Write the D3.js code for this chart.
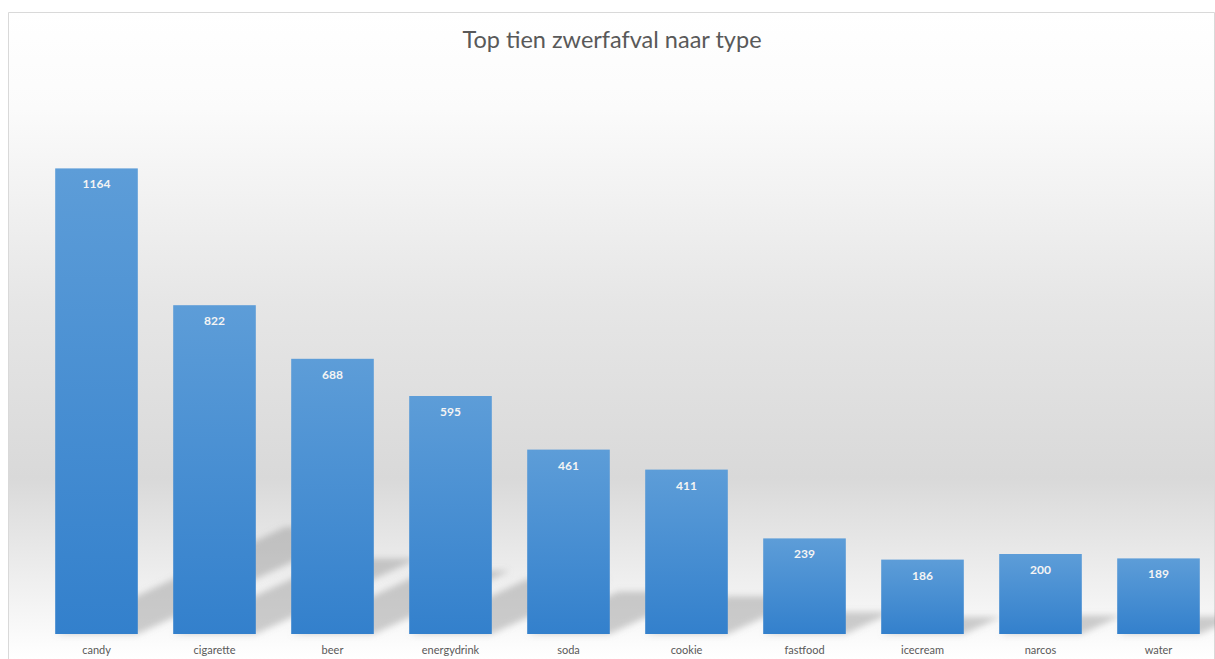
<!DOCTYPE html>
<html>
<head>
<meta charset="utf-8">
<script src="https://cdnjs.cloudflare.com/ajax/libs/d3/7.8.5/d3.min.js"></script>
<style>
  body { margin: 0; background: #fff; }
  svg { display: block; }
</style>
</head>
<body>
<div id="chart"></div>
<script>
// chart data
var categories = ['candy', 'cigarette', 'beer', 'energydrink', 'soda', 'cookie', 'fastfood', 'icecream', 'narcos', 'water'];
var counts = [1164, 822, 688, 595, 461, 411, 239, 186, 200, 189];
var chartTitle = 'Top tien zwerfafval naar type';

var w = 1215;
var h = 659;
var base = 634;

var data = categories.map(function(c, i) { return { name: c, value: counts[i] }; });

var svg = d3.select('#chart').append('svg')
  .attr('width', w)
  .attr('height', h);

var defs = svg.append('defs');

// background gradient of the chart area
var bg = defs.append('linearGradient')
  .attr('id', 'bgGrad')
  .attr('x1', 0).attr('y1', 0).attr('x2', 0).attr('y2', 1);
bg.append('stop').attr('offset', '0%').attr('stop-color', '#ffffff');
bg.append('stop').attr('offset', '15%').attr('stop-color', '#fbfbfb');
bg.append('stop').attr('offset', '45%').attr('stop-color', '#e6e6e6');
bg.append('stop').attr('offset', '72%').attr('stop-color', '#d9d9d9');
bg.append('stop').attr('offset', '88%').attr('stop-color', '#efefef');
bg.append('stop').attr('offset', '100%').attr('stop-color', '#ffffff');

// bar gradient
var bar = defs.append('linearGradient')
  .attr('id', 'barGrad')
  .attr('x1', 0).attr('y1', 0).attr('x2', 0).attr('y2', 1);
bar.append('stop').attr('offset', '0%').attr('stop-color', '#5d9dd8');
bar.append('stop').attr('offset', '100%').attr('stop-color', '#3380cc');

// shadow blur
defs.append('filter')
  .attr('id', 'blur')
  .attr('x', '-20%').attr('y', '-20%').attr('width', '140%').attr('height', '140%')
  .append('feGaussianBlur')
  .attr('stdDeviation', 3);

svg.append('rect')
  .attr('x', 8).attr('y', 12)
  .attr('width', w - 8).attr('height', h - 12)
  .attr('fill', 'url(#bgGrad)');

// frame
svg.append('path')
  .attr('d', 'M8.5,' + h + 'V12.5H' + (w - 0.5) + 'V' + h)
  .attr('fill', 'none')
  .attr('stroke', '#d9d9d9');

svg.append('text')
  .attr('x', 612)
  .attr('y', 48)
  .attr('text-anchor', 'middle')
  .style('font-family', 'Lato, "Open Sans", sans-serif')
  .style('font-size', '23.5px')
  .style('fill', '#595959')
  .text(chartTitle);

// scales
var x = d3.scaleBand()
  .domain(categories)
  .range([37.5, 1217.5])
  .paddingInner(0.3)
  .paddingOuter(0.15);

var y = d3.scaleLinear()
  .domain([0, 1400])
  .range([base, 74]);

// perspective shadows, going up to the right
function shadowPath(d) {
  var x0 = x(d.name), x1 = x0 + x.bandwidth();
  var hgt = base - y(d.value);
  var dx = hgt * 0.494, dy = hgt * 0.23;
  return 'M' + x0 + ',' + base + 'L' + x1 + ',' + base +
    'L' + (x1 + dx) + ',' + (base - dy) + 'L' + (x0 + dx) + ',' + (base - dy) + 'Z';
}

svg.append('g')
  .attr('class', 'shadows')
  .attr('filter', 'url(#blur)')
  .selectAll('path')
  .data(data)
  .enter().append('path')
  .attr('d', shadowPath)
  .attr('fill', '#8c8c8c')
  .attr('fill-opacity', 0.42);

svg.append('g')
  .attr('class', 'bars')
  .selectAll('rect')
  .data(data)
  .enter().append('rect')
  .attr('x', function(d) { return x(d.name); })
  .attr('y', function(d) { return y(d.value); })
  .attr('width', x.bandwidth())
  .attr('height', function(d) { return base - y(d.value); })
  .attr('fill', 'url(#barGrad)');

svg.append('g')
  .attr('class', 'values')
  .selectAll('text')
  .data(data)
  .enter().append('text')
  .attr('x', function(d) { return x(d.name) + x.bandwidth() / 2; })
  .attr('y', function(d) { return y(d.value) + 20; })
  .attr('text-anchor', 'middle')
  .style('font-family', 'Lato, "Open Sans", sans-serif')
  .style('font-size', '12px')
  .style('font-weight', 'bold')
  .style('fill', '#f4f4f4')
  .text(function(d) { return d.value; });

// category axis
var xAxis = svg.append('g')
  .attr('transform', 'translate(0,' + base + ')')
  .call(d3.axisBottom(x).tickSize(0).tickPadding(12));
xAxis.select('.domain').remove();
xAxis.selectAll('text')
  .style('font-family', 'Lato, "Open Sans", sans-serif')
  .style('font-size', '11px')
  .style('fill', '#595959');
</script>
</body>
</html>
